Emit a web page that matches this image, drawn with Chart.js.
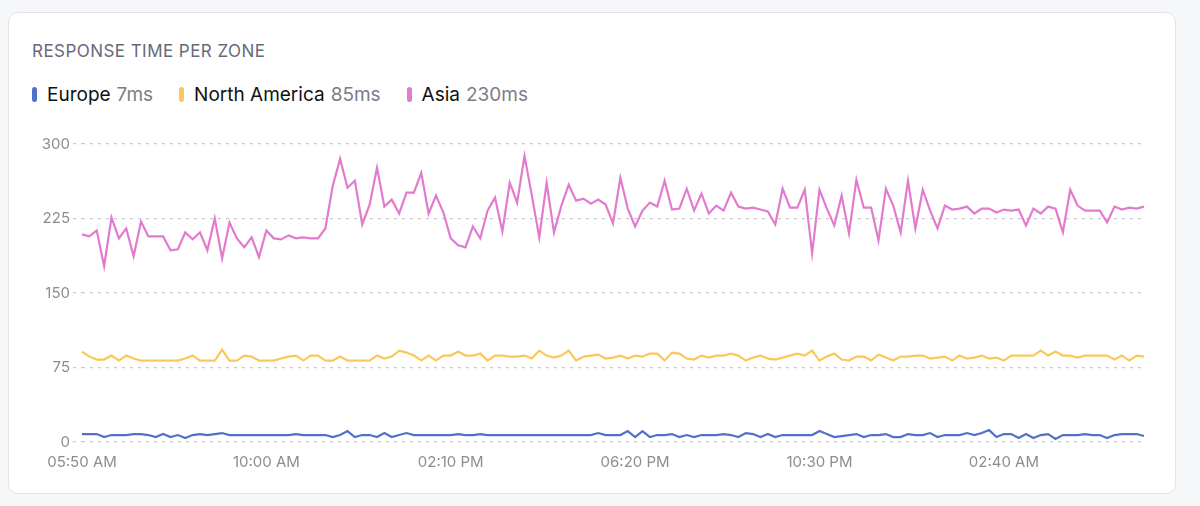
<!DOCTYPE html>
<html>
<head>
<meta charset="utf-8">
<script src="https://cdn.jsdelivr.net/npm/chart.js@4"></script>
<style>
  html, body { margin: 0; padding: 0; background: #f6f7f9; font-family: Inter, "Noto Sans", sans-serif; }
  #wrap { position: relative; width: 1200px; height: 506px; overflow: hidden; }
  .card { position: absolute; left: 8px; top: 12px; width: 1166px; height: 480px; background: #fff;
          border: 1px solid #e2e4e9; border-radius: 10px; }
  .title { position: absolute; left: 32px; top: 41px; font-size: 17px; font-weight: 400; color: #666a79;
           letter-spacing: 0.45px; }
  .legend { position: absolute; left: 32px; top: 83px; display: flex; font-size: 19px; color: #111; }
  .legend .item { display: flex; align-items: center; margin-right: 26px; }
  .legend .pill { width: 5px; height: 15px; border-radius: 3px; margin-right: 10px; }
  .legend .val { color: #7a7d86; margin-left: 6px; }
  #chart-box { position: absolute; left: 0; top: 0; width: 1200px; height: 506px; }
</style>
</head>
<body>
<div id="wrap">
  <div class="card"></div>
  <div class="title">RESPONSE TIME PER ZONE</div>
  <div class="legend" id="legend"></div>
  <div id="chart-box"><canvas id="zone-chart"></canvas></div>
</div>
<script>
// Response time per zone, one sample every 10 minutes over 24h.
const zoneNames = ["Europe", "North America", "Asia"];
const zoneColors = ["#5470c6", "#fac858", "#e27bcd"];
const zoneAverages = ["7ms", "85ms", "230ms"];
const tickLabels = ["05:50 AM", "10:00 AM", "02:10 PM", "06:20 PM", "10:30 PM", "02:40 AM"];
const yTicks = [0, 75, 150, 225, 300];

const europe = [
  8,8,8,5,7,7,7,8,8,7,5,8,5,7,4,7,8,7,8,9,7,
  7,7,7,7,7,7,
  7,7,8,7,7,7,7,5,7,11,
  5,7,7,5,9,5,7,9,7,7,
  7,7,7,7,8,7,7,8,7,7,
  7,7,7,7,7,7,7,7,7,7,7,7,7,
  9,7,
  7,7,11,5,11,5,7,7,8,5, 7,5,7,7,7,8,7,5,9,8, 5,8,5,7,7,7,7,7,11,8,
  5,6,7,8,5,7,7,8,5,5, 8,7,7,9,5,7,7,7,9,7, 9,12,5,8,8,4,8,4,7,8,
  3,7,7,7,8,7,7,4,7,8, 8,8,6
];

const northAmerica = [
  91,86,83,83,87,82,87,84,82,82, 82,82,82,82,84,87,82,82,82,93,
  82,82,87,86,82,82,82,84,86,87, 82,87,87,82,82,86,82,82,82,82,
  87,84,86,92,90,87,82,87,82,87, 87,91,87,87,89,82,87,87,86,86,
  87,84,92,87,85,87,92,82,86,87, 88,84,85,
  87,84,87,86,89,89,82,90,89,84, 83,87,85,87,87,89,87,82,85,87,
  84,83,85,87,89,87,92,82,86,89, 83,82,86,86,82,88,85,82,86,86,
  87,87,84,85,86,82,87,84,85,87, 84,85,82,87,87,87,87,92,87,91,
  87,87,85,87,87,87,87,83,87,82, 87,86
];

const asia = [
  209,207,213,177,226,205,215,187,222,207,207,207,193,194,211,204,211,193,225,185,
  221,205,196,206,186,213,205,204,208,
  205,206,205,205,
  215,258,285,256,263,219,239,276,237,244,230,251,251,271,230,248,231,205,198,196,
  217,205,233,246,212,261,
  241,288,248,206,261,211,238,259,243,245,240,244,239,220,266,235,217,233,241,237,
  263,234,235,255,233,250,230,238,233,
  251,237,235,236,234,232,219,255,236,236,254,190,254,235,218,248,210,264,236,236,
  203,255,238,211,263,215,254,233,215,
  238,234,235,237,230,235,235,231,234,233,234,218,235,230,237,235,211,254,238,233,
  233,233,221,237,234,236,235,237
];

// category labels: 10-minute steps starting 05:50 AM
const times = [];
for (let i = 0; i < asia.length; i++) {
  const m = (350 + i * 10) % 1440;
  let h = Math.floor(m / 60);
  const ap = h >= 12 ? "PM" : "AM";
  h = h % 12 === 0 ? 12 : h % 12;
  times.push(String(h).padStart(2, "0") + ":" + String(m % 60).padStart(2, "0") + " " + ap);
}

// --- legend (two-tone text, so built in HTML) ---
const legendEl = document.getElementById("legend");
zoneNames.forEach((name, i) => {
  const it = document.createElement("div");
  it.className = "item";
  it.innerHTML = `<span class="pill" style="background:${zoneColors[i]}"></span>${name}<span class="val">${zoneAverages[i]}</span>`;
  legendEl.appendChild(it);
});

const series = [europe, northAmerica, asia];
const gridColor = "#c9cace";

new Chart(document.getElementById("zone-chart"), {
  type: "line",
  data: {
    labels: times,
    datasets: series.map((d, i) => ({
      label: zoneNames[i],
      data: d,
      borderColor: zoneColors[i],
      backgroundColor: zoneColors[i],
      borderWidth: 2.2,
      pointRadius: 0,
      tension: 0,
    })),
  },
  options: {
    responsive: true,
    maintainAspectRatio: false,
    animation: false,
    layout: { padding: { top: 144, left: 20, right: 56, bottom: 34 } },
    plugins: { legend: { display: false }, tooltip: { enabled: false } },
    scales: {
      x: {
        grid: { display: false, drawTicks: false },
        border: { display: false },
        afterFit: (s) => { s.height = 30; },
        ticks: {
          autoSkip: false,
          maxRotation: 0,
          padding: 11,
          color: "#8b8d94",
          font: { family: "Inter", size: 15 },
          callback: function (v, idx) {
            return idx % 25 === 0 ? tickLabels[idx / 25] : "";
          },
        },
      },
      y: {
        min: yTicks[0],
        max: yTicks[yTicks.length - 1],
        afterBuildTicks: (s) => { s.ticks = yTicks.map((v) => ({ value: v })); },
        afterFit: (s) => { s.width = 62; },
        border: { display: false, dash: [3, 5] },
        grid: {
          color: gridColor,
          tickBorderDash: [3, 5],
          tickColor: gridColor,
          tickLength: 9,
          lineWidth: 1.2,
        },
        ticks: {
          padding: 3,
          color: "#8b8d94",
          font: { family: "Inter", size: 15 },
        },
      },
    },
  },
});
</script>
</body>
</html>
